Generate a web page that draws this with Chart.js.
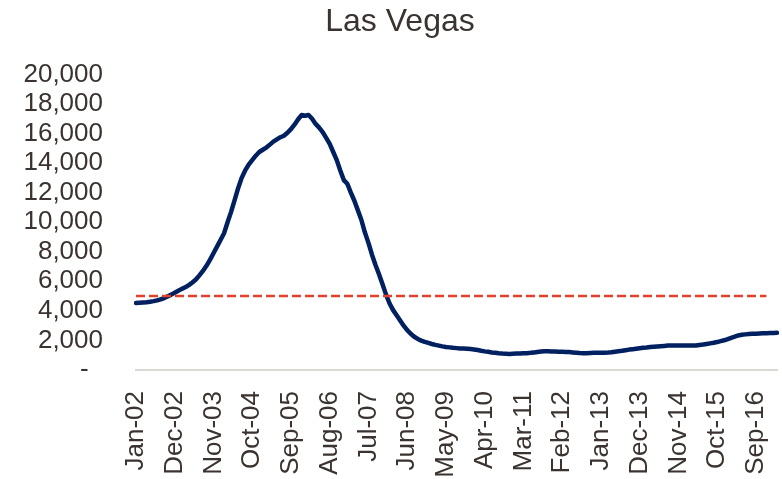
<!DOCTYPE html>
<html>
<head>
<meta charset="utf-8">
<script src="https://cdn.jsdelivr.net/npm/chart.js@4/dist/chart.umd.min.js"></script>
<style>
  body { margin: 0; background: #fff; }
  #wrap { width: 782px; height: 479px; position: relative; }
</style>
</head>
<body>
<div id="wrap"><canvas id="chart"></canvas></div>
<script>
// monthly series, Jan-02 .. Mar-17
const monthNames = ['Jan','Feb','Mar','Apr','May','Jun','Jul','Aug','Sep','Oct','Nov','Dec'];
const startYear = 2002, monthCount = 183;

const tickLabels = ['Jan-02','Dec-02','Nov-03','Oct-04','Sep-05','Aug-06','Jul-07','Jun-08',
  'May-09','Apr-10','Mar-11','Feb-12','Jan-13','Dec-13','Nov-14','Oct-15','Sep-16'];

const lasVegas = [
  4530, 4550, 4570, 4590, 4620, 4660, 4710, 4780, 4870, 4980,
  5100, 5230, 5360, 5490, 5600, 5740, 5920, 6120, 6400, 6700,
  7050, 7450, 7900, 8350, 8800, 9250, 10000, 10700, 11500, 12300,
  13000, 13500, 13900, 14200, 14500, 14750, 14900, 15050, 15250, 15450,
  15600, 15750, 15850, 16050, 16300, 16600, 16950, 17250, 17200, 17250,
  17000, 16650, 16400, 16100, 15700, 15300, 14750, 14200, 13500, 12850,
  12600, 12000, 11450, 10800, 10150, 9300, 8600, 7800, 7100, 6480,
  5800, 5100, 4500, 4050, 3700, 3350, 3000, 2700, 2450, 2250,
  2100, 1990, 1900, 1830, 1760, 1700, 1650, 1600, 1560, 1530,
  1500, 1480, 1460, 1450, 1440, 1420, 1390, 1350, 1300, 1260,
  1230, 1190, 1160, 1130, 1110, 1100, 1090, 1100, 1110, 1120,
  1130, 1140, 1160, 1190, 1220, 1250, 1270, 1270, 1260, 1250,
  1240, 1230, 1220, 1210, 1190, 1170, 1150, 1140, 1140, 1150,
  1160, 1160, 1170, 1170, 1180, 1200, 1240, 1270, 1300, 1340,
  1380, 1410, 1440, 1470, 1500, 1520, 1550, 1570, 1590, 1610,
  1630, 1650, 1660, 1660, 1660, 1660, 1660, 1650, 1650, 1660,
  1690, 1720, 1760, 1800, 1840, 1890, 1950, 2010, 2090, 2180,
  2260, 2340, 2380, 2410, 2430, 2450, 2460, 2470, 2480, 2490,
  2500, 2510, 2520
];

const threshold = 5000;
const thresholdEnd = 179; // dashed line stops a little before the last month

const labels = [];
for (let i = 0; i < monthCount; i++) {
  const y = String((startYear + Math.floor(i / 12)) % 100).padStart(2, '0');
  labels.push(monthNames[i % 12] + '-' + y);
}
const thresholdLine = labels.map((_, i) => i <= thresholdEnd ? threshold : null);

const textColor = '#3a3330';
const font = "'Liberation Sans', Arial, sans-serif";

new Chart(document.getElementById('chart'), {
  type: 'line',
  data: {
    labels,
    datasets: [
      {
        data: thresholdLine,
        borderColor: '#e3402b',
        borderWidth: 2.5,
        borderDash: [9, 4],
        pointRadius: 0,
        fill: false
      },
      {
        data: lasVegas,
        borderColor: '#002060',
        borderWidth: 4.5,
        borderJoinStyle: 'round',
        borderCapStyle: 'round',
        pointRadius: 0,
        tension: 0,
        fill: false
      }
    ]
  },
  options: {
    responsive: true,
    maintainAspectRatio: false,
    animation: false,
    layout: { padding: { left: 23, right: 5, top: 0, bottom: 0 } },
    plugins: {
      legend: { display: false },
      tooltip: { enabled: false },
      title: {
        display: true,
        text: 'Las Vegas',
        color: textColor,
        font: { family: font, size: 32, weight: 'normal' },
        padding: { top: 3, bottom: 33 }
      }
    },
    scales: {
      x: {
        offset: false,
        grid: { display: false, drawTicks: false },
        border: { display: true, color: '#dcd8d4', width: 2 },
        ticks: {
          autoSkip: false,
          maxRotation: 90,
          minRotation: 90,
          padding: 21,
          color: textColor,
          font: { family: font, size: 26 },
          callback: function (value) {
            const l = this.getLabelForValue(value);
            return tickLabels.includes(l) ? l : null;
          }
        },
        afterFit: (scale) => {
          scale.height = 109;
          scale.paddingLeft = 0;
          scale.paddingRight = 0;
        }
      },
      y: {
        min: 0,
        max: 20000,
        grid: { display: false, drawTicks: false },
        border: { display: false },
        ticks: {
          stepSize: 2000,
          autoSkip: false,
          padding: 33,
          color: textColor,
          font: { family: font, size: 26 },
          callback: (v) => v === 0 ? '-  ' : v.toLocaleString('en-US')
        },
        afterFit: (scale) => { scale.width = 113; }
      }
    }
  }
});
</script>
</body>
</html>
